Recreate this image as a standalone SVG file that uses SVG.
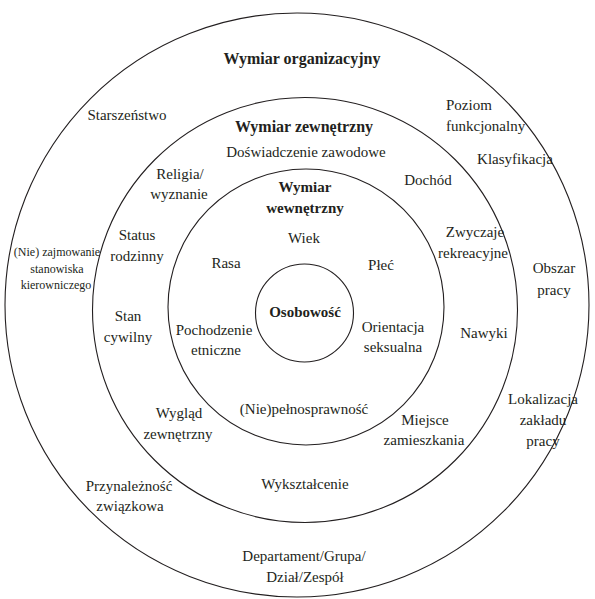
<svg xmlns="http://www.w3.org/2000/svg" width="595" height="599" viewBox="0 0 595 599" font-family="Liberation Serif, DejaVu Serif, serif">
<style>
.ring{fill:none;stroke:#231f20;stroke-width:1.1}
text{font-size:15px;fill:#231f20;text-anchor:middle}
.b{font-weight:bold}
.h{font-size:16px}
.s{font-size:12px}
.l{text-anchor:start}
</style>
<rect width="595" height="599" fill="#ffffff"/>
<g id="wymiar-organizacyjny" font-family="Liberation Serif, serif">
<circle class="ring" cx="297" cy="305" r="292"/>
<text class="b h" x="302" y="64">Wymiar organizacyjny</text>
<text x="127" y="120">Starszeństwo</text>
<text class="l" x="446" y="110">Poziom</text>
<text class="l" x="446" y="131">funkcjonalny</text>
<text x="515" y="164">Klasyfikacja</text>
<text class="s" x="57" y="256">(Nie) zajmowanie</text>
<text class="s" x="57" y="273">stanowiska</text>
<text class="s" x="56" y="289">kierowniczego</text>
<text x="554" y="273">Obszar</text>
<text x="554" y="295">pracy</text>
<text x="543" y="404">Lokalizacja</text>
<text x="543" y="425">zakładu</text>
<text x="543" y="446">pracy</text>
<text x="129" y="491">Przynależność</text>
<text x="130" y="511">związkowa</text>
<text x="304" y="561">Departament/Grupa/</text>
<text x="305" y="582">Dział/Zespół</text>
</g>
<g id="wymiar-zewnetrzny" font-family="Liberation Serif, serif">
<circle class="ring" cx="305" cy="310" r="212.5"/>
<text class="b h" x="304" y="132">Wymiar zewnętrzny</text>
<text x="306" y="157">Doświadczenie zawodowe</text>
<text x="180" y="179">Religia/</text>
<text x="179" y="199">wyznanie</text>
<text x="428" y="185">Dochód</text>
<text x="137" y="240">Status</text>
<text x="137" y="261">rodzinny</text>
<text x="475" y="237">Zwyczaje</text>
<text x="473" y="258">rekreacyjne</text>
<text x="128" y="321">Stan</text>
<text x="128" y="342">cywilny</text>
<text x="484" y="338">Nawyki</text>
<text x="179" y="418">Wygląd</text>
<text x="178" y="439">zewnętrzny</text>
<text x="425" y="425">Miejsce</text>
<text x="424" y="445">zamieszkania</text>
<text x="305" y="489">Wykształcenie</text>
</g>
<g id="wymiar-wewnetrzny" font-family="Liberation Serif, serif">
<circle class="ring" cx="306" cy="307" r="138"/>
<text class="b" x="305" y="192">Wymiar</text>
<text class="b" x="305" y="213">wewnętrzny</text>
<text x="304" y="243">Wiek</text>
<text x="226" y="268">Rasa</text>
<text x="381" y="270">Płeć</text>
<text x="214" y="335">Pochodzenie</text>
<text x="216" y="355">etniczne</text>
<text x="393" y="332">Orientacja</text>
<text x="393" y="352">seksualna</text>
<text x="304" y="414">(Nie)pełnosprawność</text>
</g>
<g id="osobowosc" font-family="Liberation Serif, serif">
<circle class="ring" cx="304.5" cy="313" r="49"/>
<text class="b" x="305" y="317">Osobowość</text>
</g>
<g id="connectors"/>
</svg>
